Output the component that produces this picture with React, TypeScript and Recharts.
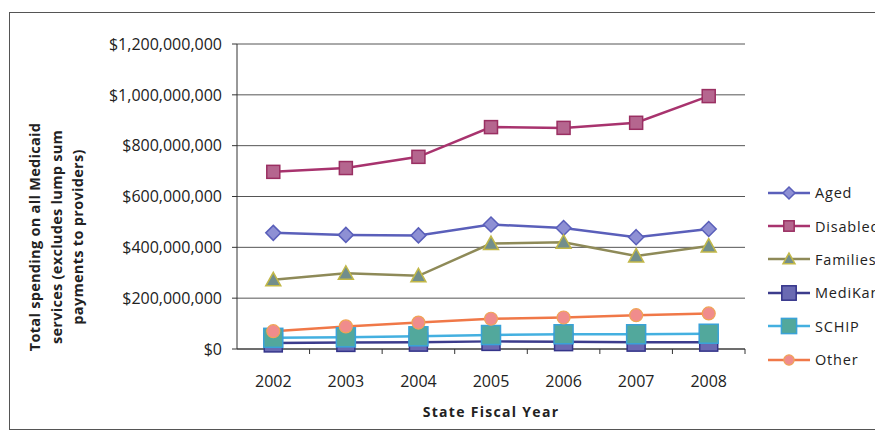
import { LineChart, Line, XAxis, YAxis, CartesianGrid, Legend } from "recharts";

const YEARS = ["2002", "2003", "2004", "2005", "2006", "2007", "2008"];
// spending in millions of dollars
const AGED = [457, 449, 447, 490, 476, 440, 472];
const DISABLED = [697, 712, 756, 873, 870, 890, 995];
const FAMILIES = [272, 298, 288, 415, 420, 366, 405];
const MEDIKAN = [24, 26, 27, 30, 29, 27, 27];
const SCHIP = [44, 46, 50, 55, 58, 58, 60];
const OTHER = [70, 89, 104, 119, 124, 133, 140];
const Y_TICKS = [0, 200e6, 400e6, 600e6, 800e6, 1000e6, 1200e6];

const data = YEARS.map((year, i) => ({
  year,
  Aged: AGED[i] * 1e6,
  Disabled: DISABLED[i] * 1e6,
  Families: FAMILIES[i] * 1e6,
  MediKan: MEDIKAN[i] * 1e6,
  SCHIP: SCHIP[i] * 1e6,
  Other: OTHER[i] * 1e6,
}));

const FONT = "'Open Sans', sans-serif";
const W = 875;
const H = 427;
const PLOT_LEFT = 229;
const PLOT_RIGHT = 737;
const HALF_BAND = (PLOT_RIGHT - PLOT_LEFT) / YEARS.length / 2;

type Shape = "diamond" | "square" | "triangle" | "circle";

const series: {
  key: string;
  label: string;
  line: string;
  fill: string;
  edge: string;
  shape: Shape;
  size: number;
}[] = [
  { key: "Aged", label: "Aged", line: "#5a5fba", fill: "#8e90d4", edge: "#5a5fba", shape: "diamond", size: 15 },
  { key: "Disabled", label: "Disabled", line: "#a8336e", fill: "#b5668f", edge: "#9a2f62", shape: "square", size: 13 },
  { key: "Families", label: "Families", line: "#8e8a58", fill: "#728e8c", edge: "#c2b848", shape: "triangle", size: 15 },
  { key: "MediKan", label: "MediKan", line: "#3c3c8c", fill: "#6a6ab2", edge: "#34348a", shape: "square", size: 18 },
  { key: "SCHIP", label: "SCHIP", line: "#44b0e0", fill: "#52a89c", edge: "#3aa2d8", shape: "square", size: 19 },
  { key: "Other", label: "Other", line: "#f07848", fill: "#f08c8c", edge: "#f0a456", shape: "circle", size: 13 },
];

function Marker({ cx, cy, s }: { cx: number; cy: number; s: (typeof series)[number] }) {
  const r = s.size / 2;
  if (s.shape === "diamond")
    return (
      <polygon
        points={`${cx},${cy - r} ${cx + r},${cy} ${cx},${cy + r} ${cx - r},${cy}`}
        fill={s.fill}
        stroke={s.edge}
        strokeWidth={1.5}
      />
    );
  if (s.shape === "triangle")
    return (
      <polygon
        points={`${cx},${cy - r} ${cx + r},${cy + r * 0.8} ${cx - r},${cy + r * 0.8}`}
        fill={s.fill}
        stroke={s.edge}
        strokeWidth={1.5}
      />
    );
  if (s.shape === "circle")
    return <circle cx={cx} cy={cy} r={r} fill={s.fill} stroke={s.edge} strokeWidth={1.2} />;
  return <rect x={cx - r} y={cy - r} width={s.size} height={s.size} fill={s.fill} stroke={s.edge} strokeWidth={1.5} />;
}

const fmt = (v: number) => "$" + v.toLocaleString("en-US");

function XTick(props: any) {
  const { x, y, payload } = props;
  return (
    <g>
      <text x={x} y={y + 38} textAnchor="middle" fontFamily={FONT} fontSize={16} fill="#222">
        {payload.value}
      </text>
      <line x1={x + HALF_BAND} x2={x + HALF_BAND} y1={y} y2={y + 5} stroke="#333" />
    </g>
  );
}

function YTitle() {
  const cy = 229;
  const lines = [
    { x: 32, t: "Total spending on all Medicaid" },
    { x: 54, t: "services (excludes lump sum" },
    { x: 75, t: "payments to providers)" },
  ];
  return (
    <g>
      {lines.map((l) => (
        <text
          key={l.t}
          x={l.x}
          y={cy}
          transform={`rotate(-90, ${l.x}, ${cy})`}
          textAnchor="middle"
          fontFamily={FONT}
          fontWeight={700}
          fontSize={14.5}
          letterSpacing={0.3}
          fill="#222"
        >
          {l.t}
        </text>
      ))}
    </g>
  );
}

function XTitle(props: any) {
  const { viewBox } = props;
  return (
    <text
      x={viewBox.x + viewBox.width / 2}
      y={viewBox.y + 68}
      textAnchor="middle"
      fontFamily={FONT}
      fontWeight={700}
      fontSize={14}
      letterSpacing={1.3}
      fill="#222"
    >
      State Fiscal Year
    </text>
  );
}

function LegendBox() {
  return (
    <div style={{ fontFamily: FONT, fontSize: 14.5, letterSpacing: 0.8, color: "#222" }}>
      {series.map((s) => (
        <div key={s.key} style={{ display: "flex", alignItems: "center", height: 33.4, whiteSpace: "nowrap" }}>
          <svg width={44} height={20}>
            <line x1={0} x2={42} y1={10} y2={10} stroke={s.line} strokeWidth={2.5} />
            <Marker cx={21} cy={10} s={{ ...s, size: s.size * 0.8 }} />
          </svg>
          <span style={{ marginLeft: 3 }}>{s.label}</span>
        </div>
      ))}
    </div>
  );
}

export default function App() {
  return (
    <div style={{ position: "relative", width: W, height: H, overflow: "hidden", background: "#fff" }}>
      <div
        style={{
          position: "absolute",
          left: 1,
          top: 4,
          width: 1000,
          height: 418,
          border: "1.5px solid #555",
          boxSizing: "border-box",
        }}
      />
      <LineChart width={W} height={H} data={data} margin={{ top: 36, right: W - PLOT_RIGHT, bottom: 0, left: 0 }}>
        <CartesianGrid vertical={false} stroke="#555" strokeWidth={1} />
        <XAxis
          dataKey="year"
          height={86}
          padding={{ left: HALF_BAND, right: HALF_BAND }}
          tickSize={0}
          tickMargin={0}
          tickLine={false}
          stroke="#333"
          tick={<XTick />}
          interval={0}
          label={<XTitle />}
        />
        <YAxis
          width={PLOT_LEFT}
          domain={[0, 1200e6]}
          ticks={Y_TICKS}
          tickFormatter={fmt}
          tickSize={5}
          tickMargin={10}
          stroke="#333"
          tick={{ fontFamily: FONT, fontSize: 16, fill: "#222" }}
          label={<YTitle />}
        />
        <Legend
          layout="vertical"
          align="center"
          verticalAlign="middle"
          content={<LegendBox />}
          wrapperStyle={{ left: 760, top: 168, width: 200 }}
        />
        {series.map((s) => (
          <Line
            key={s.key}
            dataKey={s.key}
            stroke={s.line}
            strokeWidth={2.5}
            isAnimationActive={false}
            dot={(p: any) => <Marker key={`${s.key}-${p.index}`} cx={p.cx} cy={p.cy} s={s} />}
            activeDot={false}
          />
        ))}
      </LineChart>
    </div>
  );
}
